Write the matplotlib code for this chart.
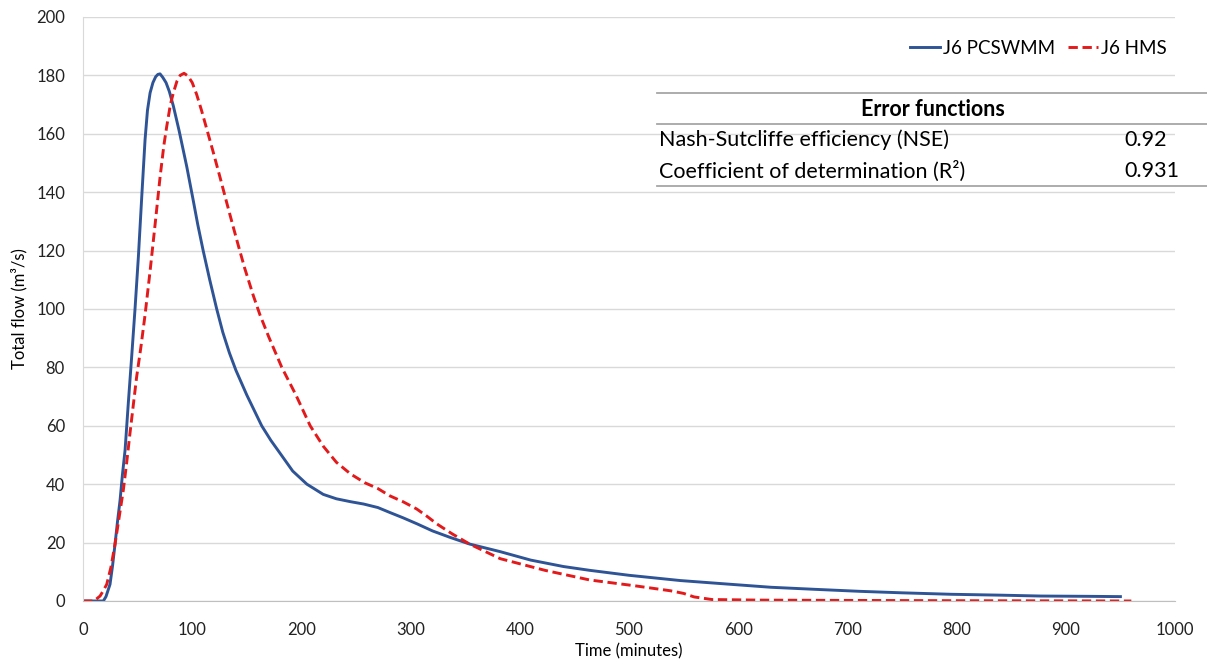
import numpy as np
import matplotlib.pyplot as plt
from matplotlib.lines import Line2D

# J6 PCSWMM (minutes, m3/s)
t_pcswmm = [0, 10, 18.6, 21, 24.7, 27, 29.3, 31.5, 33.9, 36, 38.5, 41.5, 44.6, 47.6, 50.7,
            53.7, 56.8, 59, 61.4, 64, 66.5, 68.5, 70.5, 73, 76, 79, 82.7, 88, 95, 101,
            105, 110, 116, 122.4, 128, 134, 140, 150, 163.6, 172, 180.4, 192, 205, 220,
            232, 245, 257, 270, 281, 293, 306, 320, 336, 354, 382, 410, 440, 464, 500,
            547, 590, 630, 670, 712, 750, 795, 840, 877, 920, 950]
q_pcswmm = [0, 0, 0, 1.5, 5.7, 12, 19.5, 27, 34.5, 43, 51.7, 68, 84, 100, 118,
            138, 158, 168, 174, 177.5, 179.5, 180.3, 180.5, 179.3, 177.5, 174.5, 169.5,
            161, 148.7, 137, 129, 120, 110, 100, 92, 85, 79, 70.5, 60, 55, 50.6, 44.5,
            40, 36.5, 35, 34, 33.2, 32, 30.3, 28.5, 26.4, 24, 21.8, 19.5, 16.9, 14, 11.8,
            10.5, 8.8, 7, 5.8, 4.7, 4, 3.3, 2.8, 2.3, 2.0, 1.7, 1.6, 1.5]

# J6 HMS (minutes, m3/s)
t_hms = [0, 10, 15.6, 18.5, 21.7, 25.5, 29.3, 33, 36.9, 40, 43, 46, 49, 53, 56.8, 61.4,
         66, 70.5, 74, 76.6, 80, 82.7, 86, 89, 92.5, 96, 100, 104, 108.5, 113, 119,
         125.5, 131.5, 137.6, 142, 148, 156, 162, 170, 182, 195, 208, 220, 232, 245,
         258, 270, 281, 293, 305.6, 315, 324, 338, 354, 382, 423, 464, 505.5, 538,
         550, 559.5, 576, 620, 700, 800, 900, 960]
q_hms = [0, 0, 1.7, 3.5, 5.7, 11.5, 19.5, 28.5, 38, 47.5, 57.5, 67, 76.5, 87, 98, 113,
         129, 145, 156, 162.4, 170, 174, 178, 180, 180.7, 179.8, 177.5, 173.5, 168, 162,
         154, 145, 136.5, 128, 122, 114, 104.5, 98, 90.5, 80, 70.5, 60, 53, 47.5, 43.5,
         40.5, 38.5, 36, 34, 31.5, 29, 26.4, 23, 19.5, 14.5, 10.5, 7.2, 5.2, 3.5,
         2.6, 1.4, 0.5, 0.3, 0.2, 0.1, 0.05, 0]

nse = "0.92"
r2 = "0.931"

plt.rcParams['font.family'] = ['Lato', 'DejaVu Sans']

fig = plt.figure(figsize=(12.07, 6.66), dpi=100)
ax = fig.add_axes([0.0688, 0.0976, 0.9047, 0.877])

ax.plot(t_pcswmm, q_pcswmm, color='#2F5496', lw=2.1, label='J6 PCSWMM')
ax.plot(t_hms, q_hms, color='#E31A1C', lw=2.1, ls=(0, (3.2, 1.6)), label='J6 HMS')

ax.set_xlim(0, 1000)
ax.set_ylim(0, 200)
ax.set_xticks(np.arange(0, 1001, 100))
ax.set_yticks(np.arange(0, 201, 20))
ax.grid(axis='y', color='#D9D9D9', lw=1)
ax.set_axisbelow(True)
for s in ['top', 'right']:
    ax.spines[s].set_visible(False)
ax.spines['left'].set_color('#D9D9D9')
ax.spines['bottom'].set_color('#BFBFBF')
ax.tick_params(length=0, labelsize=12, colors='#222222')
ax.tick_params(axis='y', pad=13)
ax.tick_params(axis='x', pad=15)
ax.set_xlabel('Time (minutes)', fontsize=12, labelpad=4)
ax.set_ylabel('Total flow (m³/s)', fontsize=12, labelpad=6)

ax.legend(loc='upper right', bbox_to_anchor=(1.008, 0.99), ncol=2, frameon=False,
          fontsize=13.5, handlelength=1.6, columnspacing=0.7, handletextpad=0.15)

# error function table (figure pixel coords -> fraction)
W, H = 1207, 666


def fx(px):
    return px / W


def fy(py):
    return 1 - py / H


for y in [92.5, 124, 186]:
    fig.add_artist(Line2D([fx(657), fx(1207)], [fy(y), fy(y)], color='#A6A6A6', lw=1.3))

fig.text(fx(933), fy(109), 'Error functions', fontsize=15.5, fontweight='bold',
         ha='center', va='center')
fig.text(fx(659), fy(140), 'Nash-Sutcliffe efficiency (NSE)', fontsize=15.5,
         ha='left', va='center')
fig.text(fx(659), fy(171), 'Coefficient of determination (R²)', fontsize=15.5,
         ha='left', va='center')
fig.text(fx(1124), fy(140), nse, fontsize=15.5, ha='left', va='center')
fig.text(fx(1124), fy(171), r2, fontsize=15.5, ha='left', va='center')

fig.savefig('out.png', dpi=100, facecolor='white')
